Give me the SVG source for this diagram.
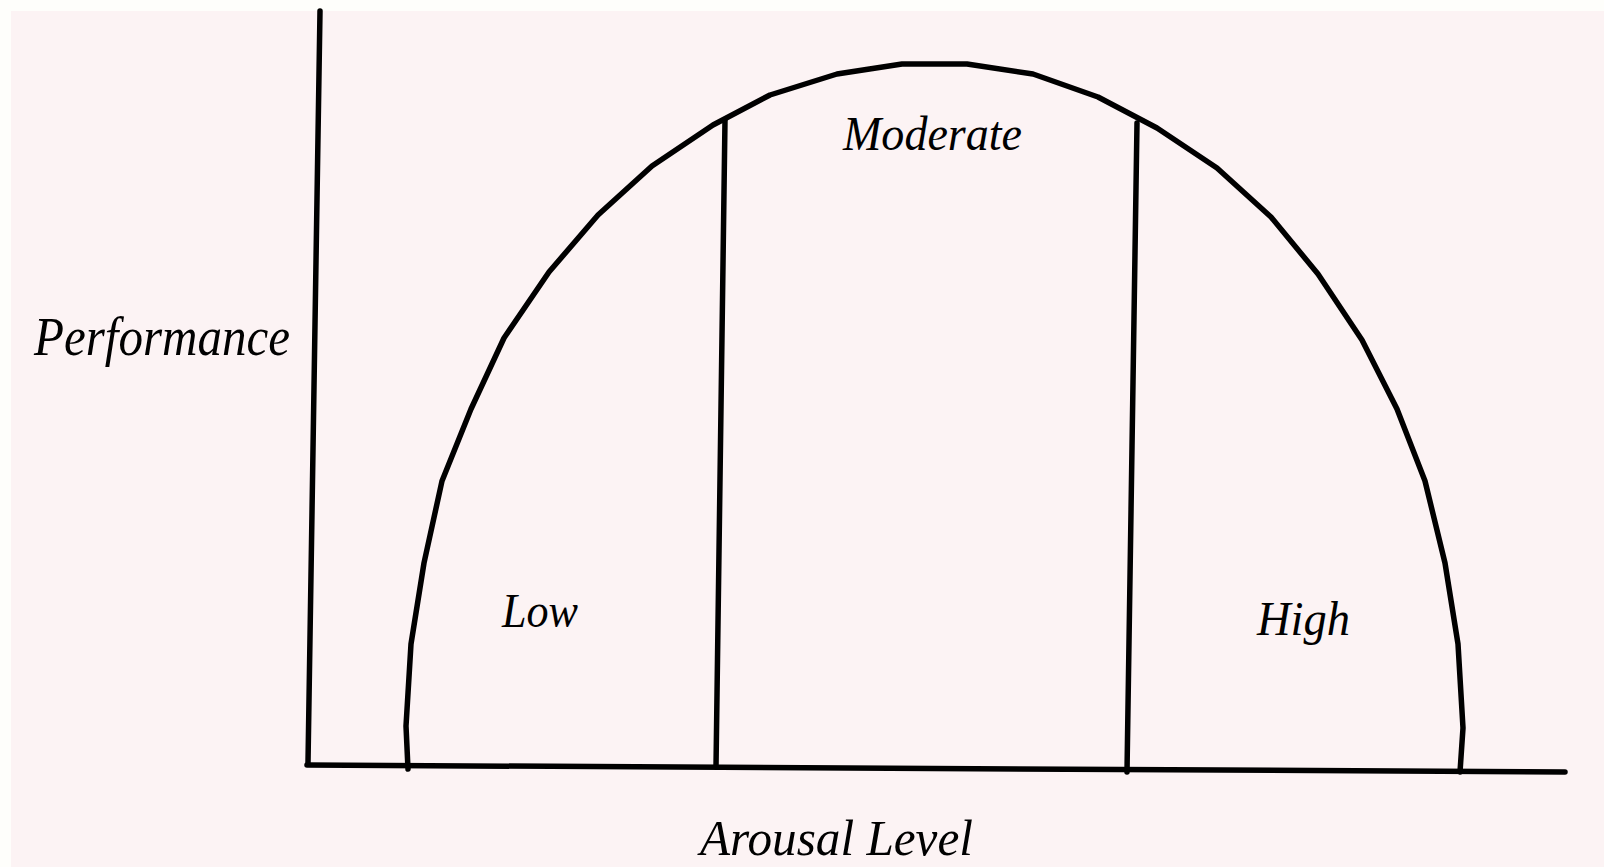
<svg xmlns="http://www.w3.org/2000/svg" width="1604" height="867" viewBox="0 0 1604 867">
<style>
.ln{fill:none;stroke:#000;stroke-width:5.5;stroke-linecap:round;stroke-linejoin:round}
.t{font-family:"Liberation Serif",serif;font-style:italic;fill:#000}
</style>
<rect x="0" y="0" width="1604" height="867" fill="#fefefb"/>
<rect x="11" y="11" width="1593" height="856" fill="#fcf3f4"/>
<g id="connectors">
<polyline id="y-axis" class="ln" points="320,11 308,763"/>
<polyline id="x-axis" class="ln" points="307,765 1565,772"/>
<polyline id="curve" class="ln" points="408,769 406,726 411,644 424,563 442,481 471,409 504,338 549,272 598,215 652,166 713,125 770,95 837,74 902,64 967,64 1033,74 1098,97 1157,128 1217,168 1271,217 1318,274 1362,340 1397,409 1425,481 1445,563 1458,644 1463,728 1460,772"/>
<polyline id="div-left" class="ln" points="725,120 716,767"/>
<polyline id="div-right" class="ln" points="1137,123 1127,772"/>
</g>
<g id="label-performance"><text class="t" x="34" y="355" font-size="54" textLength="256" lengthAdjust="spacingAndGlyphs">Performance</text></g>
<g id="label-moderate"><text class="t" x="843" y="150" font-size="48" textLength="179" lengthAdjust="spacingAndGlyphs">Moderate</text></g>
<g id="label-low"><text class="t" x="502" y="627" font-size="48" textLength="76" lengthAdjust="spacingAndGlyphs">Low</text></g>
<g id="label-high"><text class="t" x="1257" y="635" font-size="48" textLength="93" lengthAdjust="spacingAndGlyphs">High</text></g>
<g id="label-arousal"><text class="t" x="700" y="855" font-size="50" textLength="273" lengthAdjust="spacingAndGlyphs">Arousal Level</text></g>
</svg>
